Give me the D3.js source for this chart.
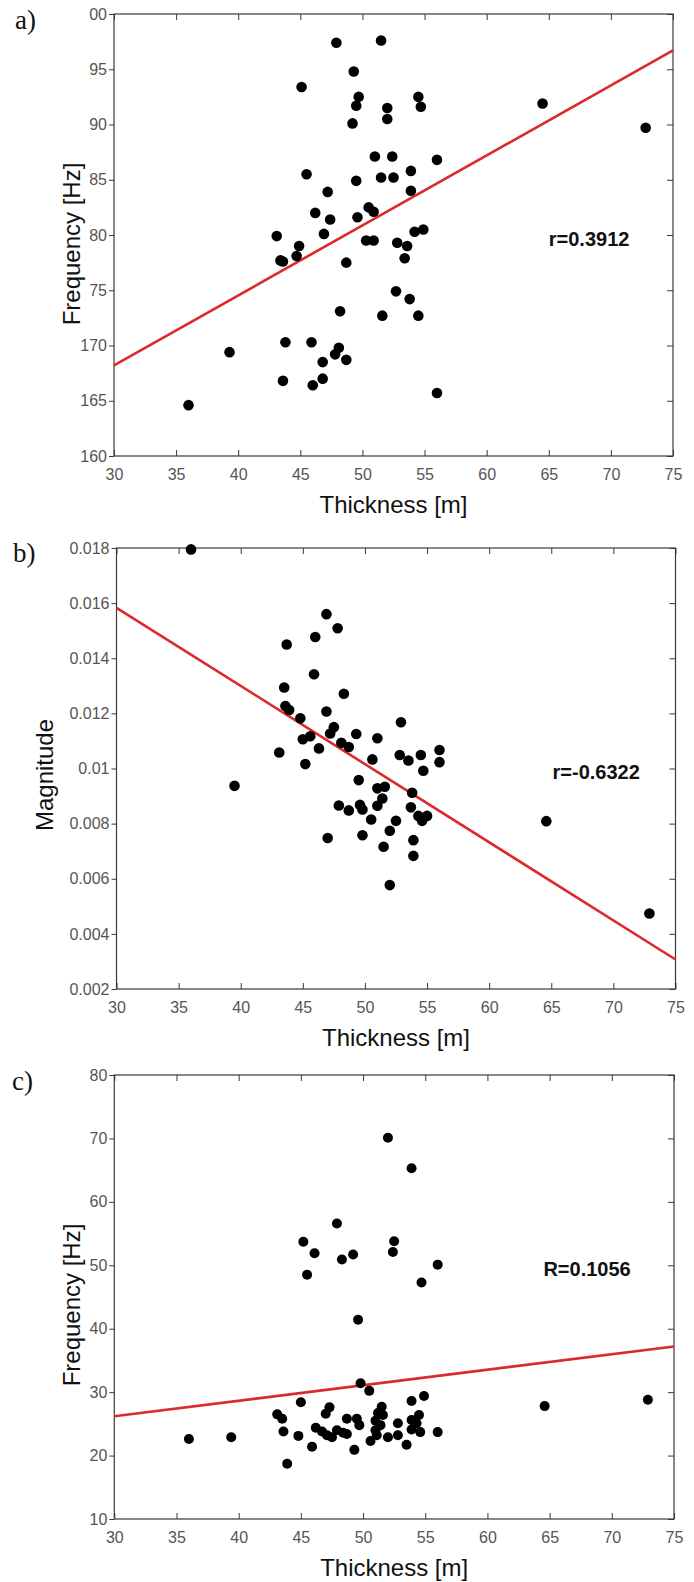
<!DOCTYPE html>
<html>
<head>
<meta charset="utf-8">
<script src="https://cdn.jsdelivr.net/npm/d3@7/dist/d3.min.js"></script>
<style>
  body { margin: 0; background: #fff; }
  svg { display: block; }
  .tick text { font-family: "Liberation Sans", Arial, Helvetica, sans-serif; font-size: 16px; fill: #555; }
  .tick line { stroke: #3a3a3a; stroke-width: 1; }
  .axis-title { font-family: "Liberation Sans", Arial, Helvetica, sans-serif; font-size: 24px; fill: #111; }
  .r-label { font-family: "Liberation Sans", Arial, Helvetica, sans-serif; font-size: 20px; font-weight: bold; fill: #111; }
  .panel-label { font-family: "Liberation Serif", "Times New Roman", serif; font-size: 27px; fill: #111; }
</style>
</head>
<body>
<svg id="chart" width="694" height="1582"></svg>
<script>
// x axis (shared by all panels)
var xTicks = [30, 35, 40, 45, 50, 55, 60, 65, 70, 75];

// a) thickness vs frequency
var thickA = [36.0, 39.3, 64.5, 72.8,
  47.9, 51.5, 49.3, 45.1, 49.7, 49.5, 49.2, 52.0, 52.0, 54.5, 54.7,
  51.0, 52.4, 56.0, 45.5, 49.5, 51.5, 52.5, 53.9, 53.9, 47.2,
  46.2, 47.4, 50.5, 50.9, 49.6, 46.9, 43.1, 44.9, 44.7, 43.4, 43.6,
  50.3, 50.9, 52.8, 53.6, 54.2, 54.9, 53.4, 48.7,
  52.7, 53.8, 48.2, 51.6, 54.5,
  43.8, 45.9, 48.1, 47.8, 46.8, 48.7, 43.6, 46.0, 46.8, 56.0];
var freqA = [164.6, 169.4, 191.9, 189.7,
  197.4, 197.6, 194.8, 193.4, 192.5, 191.7, 190.1, 191.5, 190.5, 192.5, 191.6,
  187.1, 187.1, 186.8, 185.5, 184.9, 185.2, 185.2, 185.8, 184.0, 183.9,
  182.0, 181.4, 182.5, 182.1, 181.6, 180.1, 179.9, 179.0, 178.1, 177.7, 177.6,
  179.5, 179.5, 179.3, 179.0, 180.3, 180.5, 177.9, 177.5,
  174.9, 174.2, 173.1, 172.7, 172.7,
  170.3, 170.3, 169.8, 169.2, 168.5, 168.7, 166.8, 166.4, 167.0, 165.7];
var yTicksA = [160, 165, 170, 175, 180, 185, 190, 195, 200];
var yTickLabelsA = ["160", "165", "170", "75", "80", "85", "90", "95", "00"];
var fitA = [168.2, 196.7];

// b) thickness vs magnitude
var thickB = [36.0, 39.5, 64.6, 72.9,
  46.9, 47.8, 43.7, 46.0, 45.9, 43.5, 48.3, 43.6, 43.9, 44.8, 46.9, 47.5, 47.2, 45.6, 45.0, 46.3, 43.1, 45.2,
  49.3, 48.1, 48.7, 51.0, 50.6, 52.9, 52.8, 53.5, 54.5, 56.0, 56.0, 54.7,
  49.5, 51.0, 51.6, 51.4, 51.0, 53.8, 47.9, 48.7, 49.6, 49.8, 50.5, 53.7, 54.3, 54.6, 55.0,
  52.5, 52.0, 47.0, 49.8, 51.5, 53.9, 53.9, 52.0];
var magB = [0.01795, 0.00937, 0.00809, 0.00474,
  0.01560, 0.01509, 0.01450, 0.01477, 0.01342, 0.01294, 0.01271, 0.01227, 0.01212, 0.01182, 0.01207, 0.01150, 0.01127, 0.01117, 0.01106, 0.01073, 0.01058, 0.01016,
  0.01125, 0.01093, 0.01078, 0.01110, 0.01033, 0.01168, 0.01049, 0.01029, 0.01049, 0.01067, 0.01023, 0.00992,
  0.00958, 0.00928, 0.00934, 0.00891, 0.00865, 0.00912, 0.00866, 0.00848, 0.00868, 0.00851, 0.00815, 0.00859, 0.00828, 0.00810, 0.00828,
  0.00810, 0.00774, 0.00748, 0.00758, 0.00716, 0.00740, 0.00683, 0.00577];
var yTicksB = [0.002, 0.004, 0.006, 0.008, 0.01, 0.012, 0.014, 0.016, 0.018];
var yTickLabelsB = ["0.002", "0.004", "0.006", "0.008", "0.01", "0.012", "0.014", "0.016", "0.018"];
var fitB = [0.01583, 0.00307];

// c) thickness vs frequency (second mode)
var thickC = [36.0, 39.4, 64.6, 72.9,
  52.0, 53.9, 47.9, 45.2, 46.1, 48.3, 49.2, 45.5, 52.5, 52.4, 56.0, 54.7, 49.6,
  49.8, 50.5, 45.0, 53.9, 54.9,
  43.1, 43.5, 43.6, 44.8, 47.3, 47.0,
  46.2, 46.7, 47.1, 47.5, 47.9, 48.4, 48.7, 48.7, 49.5, 49.7,
  45.9, 49.3,
  51.5, 51.2, 51.6, 51.0, 51.4, 51.0, 51.1, 50.6,
  52.0, 52.8, 52.8, 53.5,
  53.9, 54.5, 54.3, 54.6, 53.9, 56.0, 43.9];
var freqC = [22.6, 22.9, 27.8, 28.8,
  70.1, 65.3, 56.6, 53.7, 51.9, 50.9, 51.7, 48.5, 53.8, 52.1, 50.1, 47.3, 41.4,
  31.4, 30.2, 28.4, 28.6, 29.4,
  26.5, 25.8, 23.8, 23.1, 27.6, 26.6,
  24.4, 23.8, 23.2, 22.9, 24.0, 23.6, 23.4, 25.8, 25.8, 24.8,
  21.4, 20.9,
  27.7, 26.7, 26.4, 25.5, 24.8, 24.0, 23.2, 22.3,
  22.9, 25.1, 23.2, 21.7,
  25.6, 26.4, 25.1, 23.7, 24.1, 23.7, 18.7];
var yTicksC = [10, 20, 30, 40, 50, 60, 70, 80];
var yTickLabelsC = ["10", "20", "30", "40", "50", "60", "70", "80"];
var fitC = [26.2, 37.2];

var panels = [
  { label: "a)", labelX: 15, labelY: 29, box: {l: 114, r: 673, t: 14, b: 456},
    xs: thickA, ys: freqA, yDomain: [160, 200], yTicks: yTicksA, yLabels: yTickLabelsA, fit: fitA,
    rText: "r=0.3912", rAt: [65.0, 179.7], yTitle: "Frequency [Hz]", yTitleX: 80, yTitleY: 244, dotR: 5.3 },
  { label: "b)", labelX: 13, labelY: 562, box: {l: 116.5, r: 675.5, t: 548, b: 989},
    xs: thickB, ys: magB, yDomain: [0.002, 0.018], yTicks: yTicksB, yLabels: yTickLabelsB, fit: fitB,
    rText: "r=-0.6322", rAt: [65.1, 0.00988], yTitle: "Magnitude", yTitleX: 53, yTitleY: 775, dotR: 5.3 },
  { label: "c)", labelX: 12, labelY: 1090, box: {l: 114.3, r: 674, t: 1075, b: 1519},
    xs: thickC, ys: freqC, yDomain: [10, 80], yTicks: yTicksC, yLabels: yTickLabelsC, fit: fitC,
    rText: "R=0.1056", rAt: [64.5, 49.5], yTitle: "Frequency [Hz]", yTitleX: 80, yTitleY: 1305, dotR: 5 }
];

var svg = d3.select("#chart");

panels.forEach(function(p) {
  var g = svg.append("g");
  var x = d3.scaleLinear().domain([30, 75]).range([p.box.l, p.box.r]);
  var y = d3.scaleLinear().domain(p.yDomain).range([p.box.b, p.box.t]);

  // box
  g.append("rect")
    .attr("x", p.box.l).attr("y", p.box.t)
    .attr("width", p.box.r - p.box.l).attr("height", p.box.b - p.box.t)
    .attr("fill", "none").attr("stroke", "#3a3a3a").attr("stroke-width", 1.2);

  // axes: left ticks point out, the other three point in
  var left = g.append("g").attr("transform", `translate(${p.box.l},0)`)
    .call(d3.axisLeft(y).tickValues(p.yTicks).tickSize(5).tickPadding(2)
      .tickFormat(function(d, i) { return p.yLabels[i]; }));
  var bottom = g.append("g").attr("transform", `translate(0,${p.box.b})`)
    .call(d3.axisBottom(x).tickValues(xTicks).tickSizeInner(-6).tickSizeOuter(0).tickPadding(13)
      .tickFormat(d3.format("d")));
  var top = g.append("g").attr("transform", `translate(0,${p.box.t})`)
    .call(d3.axisTop(x).tickValues(xTicks).tickSizeInner(-6).tickSizeOuter(0).tickFormat(""));
  var right = g.append("g").attr("transform", `translate(${p.box.r},0)`)
    .call(d3.axisRight(y).tickValues(p.yTicks).tickSizeInner(-6).tickSizeOuter(0).tickFormat(""));
  [left, bottom, top, right].forEach(function(a) { a.select(".domain").remove(); a.attr("font-family", null).attr("font-size", null); });

  // regression line
  g.append("line")
    .attr("x1", x(30)).attr("y1", y(p.fit[0]))
    .attr("x2", x(75)).attr("y2", y(p.fit[1]))
    .attr("stroke", "#dc2a2a").attr("stroke-width", 2.6);

  // points
  g.append("g").selectAll("circle")
    .data(p.xs.map(function(v, i) { return [v, p.ys[i]]; }))
    .enter().append("circle")
    .attr("cx", function(d) { return x(d[0]); })
    .attr("cy", function(d) { return y(d[1]); })
    .attr("r", p.dotR)
    .attr("fill", "#000");

  // texts
  g.append("text").attr("class", "r-label")
    .attr("x", x(p.rAt[0])).attr("y", y(p.rAt[1])).attr("dy", "0.36em")
    .text(p.rText);

  g.append("text").attr("class", "axis-title")
    .attr("x", (p.box.l + p.box.r) / 2).attr("y", p.box.b + 57)
    .attr("text-anchor", "middle")
    .text("Thickness [m]");

  g.append("text").attr("class", "axis-title")
    .attr("transform", `translate(${p.yTitleX},${p.yTitleY}) rotate(-90)`)
    .attr("text-anchor", "middle")
    .text(p.yTitle);

  g.append("text").attr("class", "panel-label")
    .attr("x", p.labelX).attr("y", p.labelY)
    .text(p.label);
});
</script>
</body>
</html>
